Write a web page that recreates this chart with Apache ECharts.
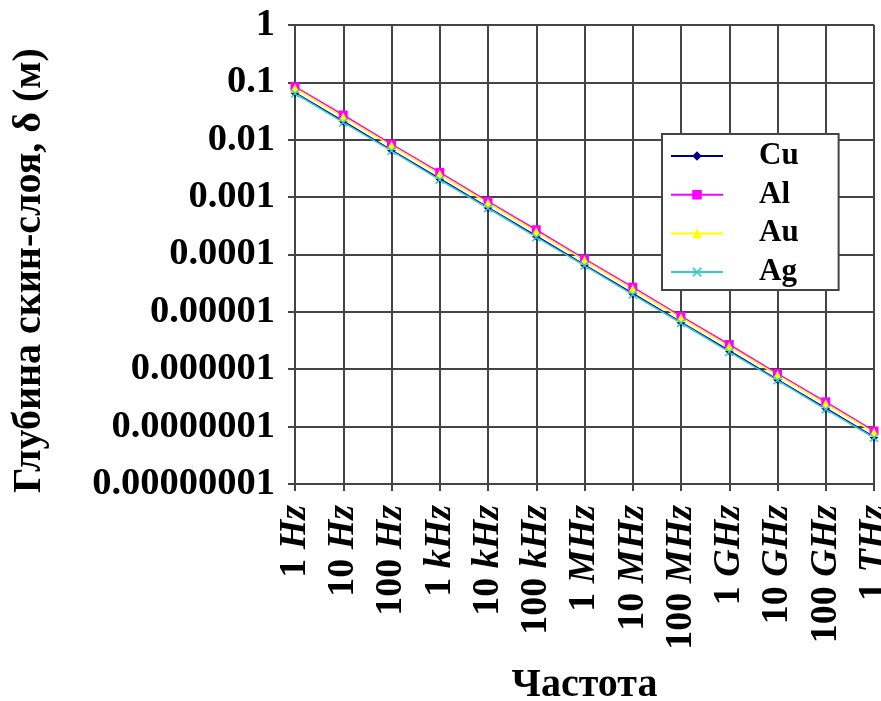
<!DOCTYPE html>
<html>
<head>
<meta charset="utf-8">
<script src="https://cdn.jsdelivr.net/npm/echarts@6/dist/echarts.min.js"></script>
<style>
  html, body { margin: 0; padding: 0; background: #fff; }
  #chart { width: 881px; height: 701px; }
</style>
</head>
<body>
<div id="chart"></div>
<script>
// Frequency categories (number + unit)
const frequencies = ['1 Hz', '10 Hz', '100 Hz', '1 kHz', '10 kHz', '100 kHz',
  '1 MHz', '10 MHz', '100 MHz', '1 GHz', '10 GHz', '100 GHz', '1 THz'];

// Skin depth, metres
const cuDepth = [0.066, 0.021, 0.0066, 0.0021, 0.00066, 0.00021, 0.000066,
  0.000021, 0.0000066, 0.0000021, 0.00000066, 0.00000021, 0.000000066];
const alDepth = [0.084, 0.027, 0.0084, 0.0027, 0.00084, 0.00027, 0.000084,
  0.000027, 0.0000084, 0.0000027, 0.00000084, 0.00000027, 0.000000084];
const auDepth = [0.079, 0.025, 0.0079, 0.0025, 0.00079, 0.00025, 0.000079,
  0.000025, 0.0000079, 0.0000025, 0.00000079, 0.00000025, 0.000000079];
const agDepth = [0.064, 0.020, 0.0064, 0.0020, 0.00064, 0.00020, 0.000064,
  0.000020, 0.0000064, 0.0000020, 0.00000064, 0.00000020, 0.000000064];

// Decade tick labels, from 1 downwards
const yTickLabels = ['1', '0.1', '0.01', '0.001', '0.0001', '0.00001',
  '0.000001', '0.0000001', '0.00000001'];

const SERIF = '"Liberation Serif", "Times New Roman", serif';
const GRID_COLOR = '#444';

// thin "x" cross used for the silver series
const crossSymbol = 'path://M0,1.2L1.2,0L10,8.8L8.8,10ZM8.8,0L10,1.2L1.2,10L0,8.8Z';

function makeSeries(name, data, color, symbol, size) {
  return {
    name: name,
    type: 'line',
    data: data,
    symbol: symbol,
    symbolSize: size,
    showSymbol: true,
    lineStyle: { color: color, width: 1.5 },
    itemStyle: { color: color },
    emphasis: { disabled: true },
    animation: false
  };
}

const chart = echarts.init(document.getElementById('chart'));
chart.setOption({
  backgroundColor: '#fff',
  animation: false,
  grid: { left: 295, right: 7, top: 25, bottom: 217, containLabel: false, outerBoundsMode: 'none' },
  legend: {
    left: 662,
    top: 134,
    orient: 'vertical',
    backgroundColor: '#fff',
    borderColor: GRID_COLOR,
    borderWidth: 2,
    borderRadius: 0,
    padding: [6, 40, 2, 8],
    itemWidth: 52,
    itemHeight: 12,
    itemGap: 6.7,
    textStyle: {
      fontFamily: SERIF,
      fontWeight: 'bold',
      fontSize: 31,
      lineHeight: 32,
      color: '#000',
      padding: [0, 0, 0, 31]
    },
    data: ['Cu', 'Al', 'Au', 'Ag']
  },
  xAxis: {
    type: 'category',
    data: frequencies,
    boundaryGap: false,
    name: 'Частота',
    nameLocation: 'middle',
    nameGap: 182,
    nameTextStyle: { fontFamily: SERIF, fontWeight: 'bold', fontSize: 40, color: '#000' },
    axisLine: { show: true, lineStyle: { color: GRID_COLOR, width: 2 } },
    axisTick: { show: true, length: 7, alignWithLabel: true, lineStyle: { color: GRID_COLOR, width: 2 } },
    splitLine: { show: true, lineStyle: { color: GRID_COLOR, width: 2 } },
    axisLabel: {
      rotate: 90,
      margin: 21,
      interval: 0,
      formatter: function (v) {
        const parts = v.split(' ');
        return '{n|' + parts[0] + ' }{u|' + parts[1] + '}';
      },
      rich: {
        n: { fontFamily: SERIF, fontWeight: 'bold', fontSize: 38, color: '#000' },
        u: { fontFamily: SERIF, fontWeight: 'bold', fontStyle: 'italic', fontSize: 38, color: '#000' }
      }
    }
  },
  yAxis: {
    type: 'log',
    logBase: 10,
    min: 1e-8,
    max: 1,
    name: 'Глубина скин-слоя, δ (м)',
    nameLocation: 'middle',
    nameRotate: 90,
    nameGap: 245,
    nameTextStyle: {
      fontFamily: SERIF, fontWeight: 'bold', fontSize: 40, color: '#000',
      padding: [0, 32, 0, 0]
    },
    axisLine: { show: true, lineStyle: { color: GRID_COLOR, width: 2 } },
    axisTick: { show: true, length: 7, lineStyle: { color: GRID_COLOR, width: 2 } },
    splitLine: { show: true, lineStyle: { color: GRID_COLOR, width: 2 } },
    minorTick: { show: false },
    axisLabel: {
      margin: 20,
      fontFamily: SERIF,
      fontWeight: 'bold',
      fontSize: 38.5,
      color: '#000',
      formatter: function (v) {
        const idx = Math.round(-Math.log10(v));
        return yTickLabels[idx] !== undefined ? yTickLabels[idx] : '';
      }
    }
  },
  series: [
    makeSeries('Cu', cuDepth, '#000080', 'diamond', 9),
    makeSeries('Al', alDepth, '#ff00ff', 'rect', 9),
    makeSeries('Au', auDepth, '#ffff00', 'triangle', 9),
    makeSeries('Ag', agDepth, '#33cccc', crossSymbol, 9)
  ]
});
</script>
</body>
</html>
